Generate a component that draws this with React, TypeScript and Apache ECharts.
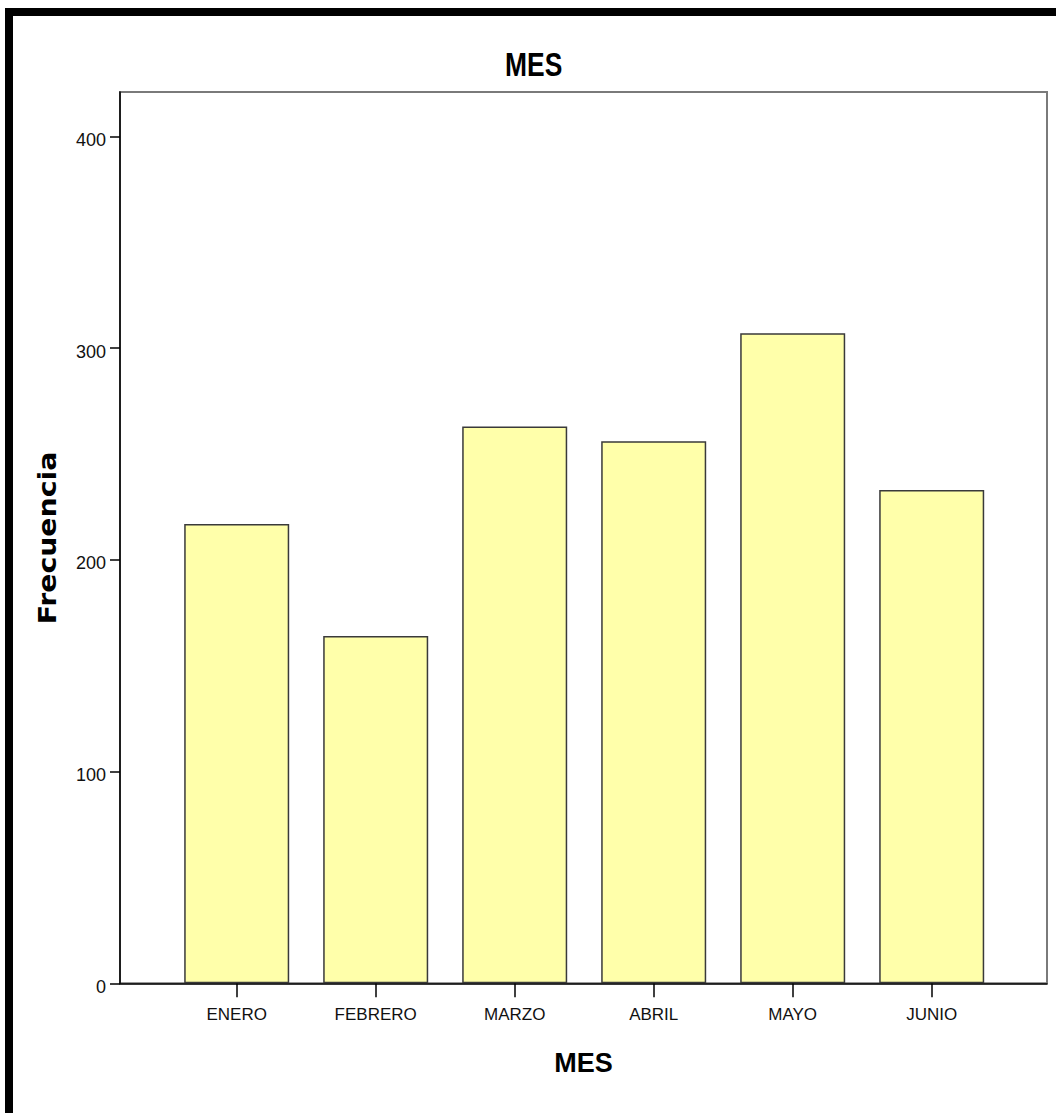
import React, { useEffect, useRef } from "react";
import * as echarts from "echarts";

const categories = ["ENERO", "FEBRERO", "MARZO", "ABRIL", "MAYO", "JUNIO"];
const frecuencia = [217, 164, 263, 256, 307, 233];
const yTicks = [0, 100, 200, 300, 400];
const titleText = "MES";
const xName = "MES";
const yName = "Frecuencia";

const SANS = "'Liberation Sans', Arial, sans-serif";

export default function App() {
  const ref = useRef<HTMLDivElement>(null);
  useEffect(() => {
    document.body.style.margin = "0";
    const chart = echarts.init(ref.current!, null, { renderer: "svg" });
    chart.setOption({
      animation: false,
      backgroundColor: "#ffffff",
      grid: [
        { left: 120, right: 9, top: 92, bottom: 129.7, show: true, borderColor: "#7a7a7a", borderWidth: 2, backgroundColor: "transparent" },
        { left: 167.2, right: 54.8, top: 92, bottom: 129.7 },
      ],
      xAxis: [
        {
          gridIndex: 0,
          type: "value",
          min: 0,
          max: 1,
          name: xName,
          nameLocation: "middle",
          nameGap: 66,
          nameTextStyle: { fontFamily: SANS, fontSize: 27, fontWeight: "bold", color: "#000" },
          axisLine: { show: true, onZero: false, lineStyle: { color: "#000", width: 1.5 } },
          axisTick: { show: false },
          axisLabel: { show: false },
          splitLine: { show: false },
        },
        {
          gridIndex: 1,
          type: "category",
          data: categories,
          axisLine: { show: false },
          axisTick: { show: true, alignWithLabel: true, length: 14, lineStyle: { color: "#000", width: 1.5 } },
          axisLabel: { margin: 23, fontFamily: SANS, fontSize: 17, color: "#111" },
          splitLine: { show: false },
        },
      ],
      yAxis: [
        {
          gridIndex: 0,
          type: "value",
          min: 0,
          max: 1,
          axisLine: { show: true, onZero: false, lineStyle: { color: "#000", width: 1.5 } },
          axisTick: { show: false },
          axisLabel: { show: false },
          splitLine: { show: false },
        },
        {
          gridIndex: 1,
          type: "value",
          min: 0,
          max: 421,
          offset: 47.2,
          axisLine: { show: false },
          axisTick: { show: true, customValues: yTicks, length: 10, lineStyle: { color: "#000", width: 1.5 } },
          axisLabel: {
            customValues: yTicks,
            margin: 14,
            formatter: "{a|{value}}",
            rich: { a: { fontFamily: SANS, fontSize: 18, color: "#111", padding: [7, 0, 0, 0] } },
          },
          splitLine: { show: false },
        },
      ],
      graphic: [
        { type: "rect", shape: { x: 5, y: 8, width: 8, height: 1105 }, style: { fill: "#000" } },
        { type: "rect", shape: { x: 5, y: 8, width: 1051, height: 8 }, style: { fill: "#000" } },
        {
          type: "text",
          x: 533.7,
          y: 64,
          scaleX: 0.8,
          style: {
            text: titleText,
            fontFamily: SANS,
            fontWeight: "bold",
            fontSize: 33,
            fill: "#000",
            textAlign: "center",
            textVerticalAlign: "middle",
          },
        },
        {
          type: "text",
          x: 48,
          y: 538,
          rotation: Math.PI / 2,
          scaleX: 1.18,
          style: {
            text: yName,
            fontFamily: "'DejaVu Sans', sans-serif",
            fontWeight: "bold",
            fontSize: 24,
            fill: "#000",
            textAlign: "center",
            textVerticalAlign: "middle",
          },
        },
      ],
      series: [
        {
          type: "bar",
          xAxisIndex: 1,
          yAxisIndex: 1,
          data: frecuencia,
          barWidth: 105,
          itemStyle: { color: "#FFFFAA", borderColor: "#3a3a3a", borderWidth: 1.5 },
        },
      ],
    });
    return () => chart.dispose();
  }, []);
  return <div ref={ref} style={{ width: 1056, height: 1113 }} />;
}
